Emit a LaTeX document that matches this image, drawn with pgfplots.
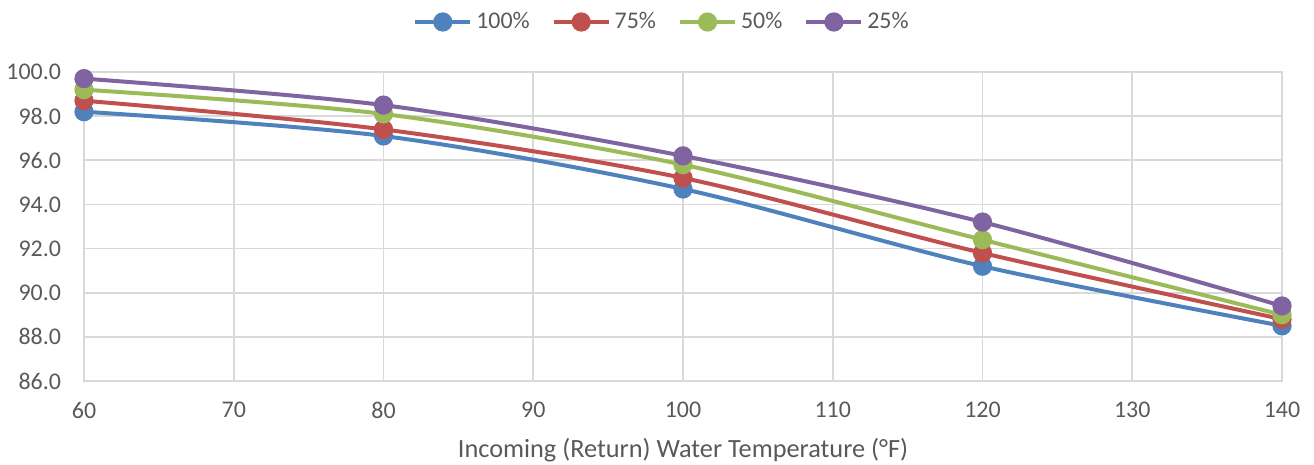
\documentclass[border=0pt]{standalone}
\usepackage{pgfplots}
\pgfplotsset{compat=1.18}
\usepackage{fontspec}
\setmainfont{Carlito}
\definecolor{cblue}{HTML}{4F81BD}
\definecolor{cred}{HTML}{C0504D}
\definecolor{cgreen}{HTML}{9BBB59}
\definecolor{cpurple}{HTML}{8064A2}
\definecolor{txt}{HTML}{595959}
\definecolor{grd}{HTML}{D9D9D9}
\begin{document}
\begin{tikzpicture}
\path[use as bounding box] (-42bp,-42bp) rectangle (615bp,190.5bp);
\begin{axis}[
  at={(0,0)}, anchor=south west,
  scale only axis, width=599bp, height=154.5bp,
  xmin=60, xmax=140, ymin=86, ymax=100,
  xtick={60,70,...,140}, ytick={86,88,...,100},
  y tick label style={/pgf/number format/fixed, /pgf/number format/fixed zerofill, /pgf/number format/precision=1},
  /pgf/number format/assume math mode=true,
  tick label style={font=\fontsize{12}{14}\selectfont, text=txt},
  xticklabel style={yshift=-7bp},
  yticklabel style={xshift=-8bp},
  major tick length=0pt,
  grid=major, grid style={grd, line width=0.9bp},
  axis line style={grd, line width=0.9bp},
  xlabel={Incoming (Return) Water Temperature (°F)},
  xlabel style={font=\fontsize{13.2}{16}\selectfont, text=txt, yshift=-3bp},
  legend style={at={(0.5,1)}, xshift=-10bp, yshift=25bp, anchor=center, draw=none, fill=none,
    font=\fontsize{12}{14}\selectfont, text=txt, legend columns=-1,
    nodes={inner xsep=2bp},
    /tikz/every even column/.append style={column sep=9bp}},
  legend image code/.code={
    \draw[#1, mark=none] (0cm,0cm) -- (0.97cm,0cm);
    \path[#1, only marks] plot coordinates {(0.485cm,0cm)};},
  every axis plot/.append style={line width=2bp, mark=*, mark size=3.8bp, smooth},
]
\addplot[cblue, mark options={fill=cblue}] coordinates {(60,98.2) (80,97.1) (100,94.7) (120,91.2) (140,88.5)};
\addlegendentry{100\%}
\addplot[cred, mark options={fill=cred}] coordinates {(60,98.7) (80,97.4) (100,95.2) (120,91.8) (140,88.8)};
\addlegendentry{75\%}
\addplot[cgreen, mark options={fill=cgreen}] coordinates {(60,99.2) (80,98.1) (100,95.8) (120,92.4) (140,89.0)};
\addlegendentry{50\%}
\addplot[cpurple, mark options={fill=cpurple}] coordinates {(60,99.7) (80,98.5) (100,96.2) (120,93.2) (140,89.4)};
\addlegendentry{25\%}
\end{axis}
\end{tikzpicture}
\end{document}
